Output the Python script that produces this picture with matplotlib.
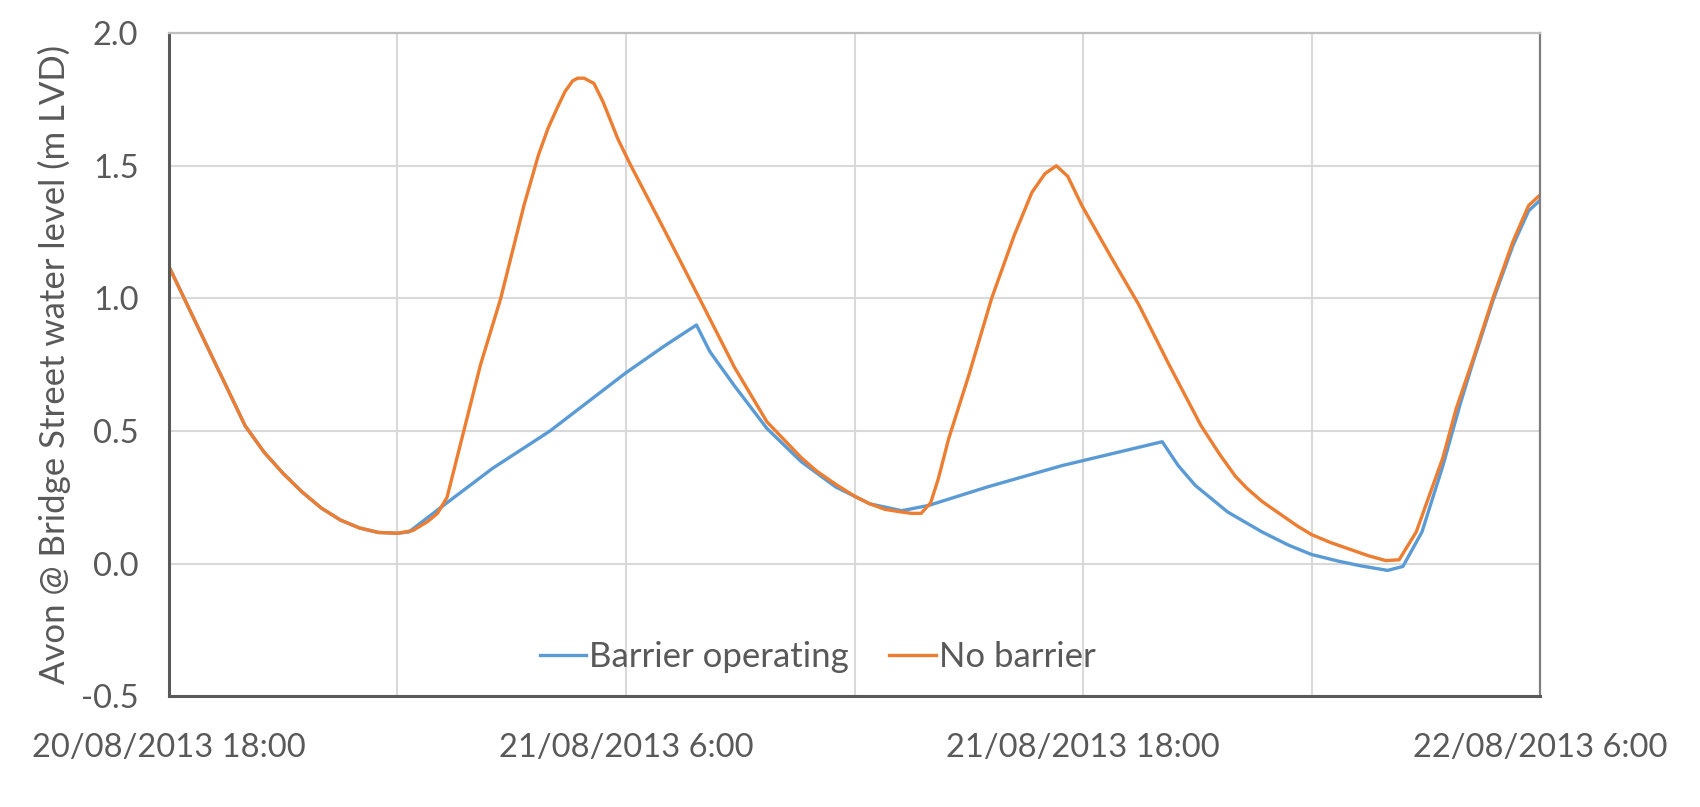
""" Avon @ Bridge Street water level, barrier vs no barrier """

import matplotlib
matplotlib.use('Agg')
import matplotlib.pyplot as plt

# hours after 20/08/2013 18:00
hours_barrier = [
    0.0, 0.5, 1.0, 1.5, 2.0, 2.5, 3.0, 3.5, 4.0, 4.5, 5.0, 5.5, 6.0, 6.3,
    7.3, 8.5, 10.0, 11.0, 12.0, 13.0, 13.85,
    14.2, 14.85, 15.7, 16.6, 17.5, 18.4, 19.24, 19.95, 21.5, 23.45, 26.08,
    26.5, 26.95, 27.8, 28.7, 29.4, 30.0, 30.7, 31.3, 32.0, 32.4, 32.9,
    33.45, 33.9, 34.24, 34.76, 35.29, 35.7, 36.0,
]
level_barrier = [
    1.12, 0.97, 0.82, 0.67, 0.52, 0.42, 0.34, 0.27, 0.21, 0.165, 0.135,
    0.118, 0.115, 0.12,
    0.23, 0.36, 0.5, 0.61, 0.72, 0.82, 0.9,
    0.8, 0.67, 0.51, 0.385, 0.29, 0.226, 0.2, 0.22, 0.29, 0.37, 0.46,
    0.37, 0.295, 0.195, 0.12, 0.07, 0.035, 0.01, -0.008, -0.025, -0.01,
    0.12, 0.37, 0.6, 0.76, 0.99, 1.2, 1.33, 1.37,
]

hours_no_barrier = [
    0.0, 0.5, 1.0, 1.5, 2.0, 2.5, 3.0, 3.5, 4.0, 4.5, 5.0, 5.5, 6.0, 6.4,
    6.8, 7.05, 7.3, 7.74, 8.18, 8.71, 9.32, 9.7, 9.95, 10.2, 10.4, 10.6,
    10.73, 10.9, 11.16, 11.4, 11.79, 12.13, 13.0, 14.0, 14.85, 15.7, 16.2,
    16.6, 17.0, 17.5, 18.0, 18.4, 18.8, 19.24, 19.5, 19.75, 20.0, 20.2,
    20.47, 21.0, 21.6, 22.2, 22.66, 23.0, 23.3, 23.6, 23.97, 24.76, 25.47,
    26.26, 27.1, 27.6, 28.0, 28.3, 28.7, 29.15, 29.6, 30.0, 30.5, 30.9,
    31.5, 31.95, 32.3, 32.75, 33.1, 33.45, 33.8, 34.24, 34.76, 35.29,
    35.7, 36.0,
]
level_no_barrier = [
    1.12, 0.97, 0.82, 0.67, 0.52, 0.42, 0.34, 0.27, 0.21, 0.165, 0.135,
    0.118, 0.115, 0.125,
    0.16, 0.19, 0.25, 0.5, 0.75, 1.0, 1.35, 1.54, 1.64, 1.72, 1.78, 1.82,
    1.83, 1.83, 1.81, 1.74, 1.6, 1.5, 1.26, 0.98, 0.74, 0.535, 0.46,
    0.4, 0.35, 0.3, 0.255, 0.226, 0.205, 0.195, 0.19, 0.19, 0.23, 0.32,
    0.47, 0.71, 1.0, 1.24, 1.4, 1.47, 1.5, 1.46, 1.35, 1.15, 0.975,
    0.75, 0.52, 0.41, 0.33, 0.285, 0.235, 0.19, 0.145, 0.11, 0.08, 0.06,
    0.03, 0.012, 0.015, 0.12, 0.26, 0.4, 0.585, 0.77, 1.0, 1.215,
    1.35, 1.39,
]

major_hours = [0, 12, 24, 36]
major_labels = ['20/08/2013 18:00', '21/08/2013 6:00',
                '21/08/2013 18:00', '22/08/2013 6:00']
minor_hours = [6, 18, 30]
y_ticks = [-0.5, 0.0, 0.5, 1.0, 1.5, 2.0]

text_grey = '#595959'
plt.rcParams['font.family'] = ['Lato', 'DejaVu Sans']

fig = plt.figure(figsize=(17, 8.07), dpi=100)
ax = fig.add_axes([0.0994, 0.137, 0.8065, 0.822])

ax.plot(hours_barrier, level_barrier, color='#5B9BD5', lw=2.4,
        label='Barrier operating')
ax.plot(hours_no_barrier, level_no_barrier, color='#ED7D31', lw=2.4,
        label='No barrier')

ax.set_xlim(0, 36)
ax.set_ylim(-0.5, 2.0)
ax.set_xticks(major_hours)
ax.set_xticklabels(major_labels)
ax.set_xticks(minor_hours, minor=True)
ax.set_yticks(y_ticks)
ax.set_yticklabels([f'{v:.1f}' for v in y_ticks])

ax.grid(True, which='both', color='#D9D9D9', lw=1.5)
ax.set_axisbelow(True)
ax.tick_params(which='both', length=0)
ax.tick_params(axis='x', labelsize=23.5, colors=text_grey, pad=26)
ax.tick_params(axis='y', labelsize=23.5, colors=text_grey, pad=22)

for side in ('left', 'bottom'):
    ax.spines[side].set_color('#595959')
    ax.spines[side].set_linewidth(2.2)
ax.spines['right'].set_color('#7F7F7F')
ax.spines['right'].set_linewidth(1.6)
ax.spines['top'].set_color('#BFBFBF')
ax.spines['top'].set_linewidth(1.6)

ax.set_ylabel('Avon @ Bridge Street water level (m LVD)', fontsize=25,
              color=text_grey, labelpad=7)

leg = ax.legend(loc='center', bbox_to_anchor=(0.473, 0.059), ncol=2,
                frameon=False, fontsize=25, handlelength=1.35,
                handletextpad=0.08, columnspacing=1.15)
for text in leg.get_texts():
    text.set_color(text_grey)

fig.savefig('out.png', dpi=100, facecolor='white')
